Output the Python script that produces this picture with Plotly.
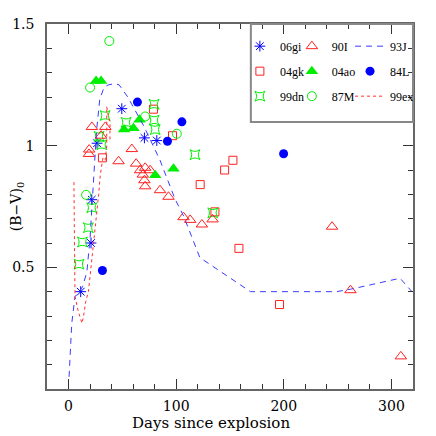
import plotly.graph_objects as go

# ---- data (days since explosion, (B-V)_0) ----
sn06gi_day = [11.3, 20.9, 21.6, 26.5, 49.5, 70.5, 82.0]
sn06gi_bv = [0.40, 0.60, 0.778, 1.01, 1.152, 1.032, 1.021]

sn90I_day = [19.0, 19.2, 21.7, 30.2, 34.2, 46.5, 58.8, 62.8, 66.5, 71.2, 75.8, 69.0,
             70.5, 71.2, 85.0, 92.9, 106.8, 113.0, 123.9, 133.8, 244.8, 261.9, 308.7]
sn90I_bv = [0.966, 0.984, 1.077, 1.041, 1.077, 0.936, 0.986, 0.926, 0.899, 0.909, 0.899, 0.881,
            0.858, 0.833, 0.817, 0.79, 0.706, 0.695, 0.676, 0.697, 0.667, 0.406, 0.134]

sn93J_day = [0.5, 3, 6, 10, 13, 17, 20, 23, 26, 29, 33, 37, 43, 47, 55, 70, 85, 99, 107,
             122, 169, 249, 262, 308, 325]
sn93J_bv = [0.05, 0.27, 0.38, 0.40, 0.42, 0.48, 0.62, 0.86, 1.06, 1.19, 1.24, 1.25, 1.255,
            1.25, 1.20, 1.08, 0.94, 0.78, 0.71, 0.54, 0.40, 0.40, 0.41, 0.455, 0.37]

sn04gk_day = [31.5, 78.9, 96.6, 122.3, 136.0, 145.0, 152.7, 158.3, 196.0]
sn04gk_bv = [0.95, 1.15, 1.041, 0.84, 0.728, 0.90, 0.94, 0.578, 0.347]

sn04ao_day = [25.6, 30.2, 51.6, 60.3, 65.9, 80.5, 97.5]
sn04ao_bv = [1.266, 1.266, 1.066, 1.072, 1.107, 0.878, 0.905]

sn84L_day = [31.5, 64.0, 91.9, 105.3, 199.8]
sn84L_bv = [0.487, 1.179, 1.018, 1.098, 0.967]

sn99dn_day = [9.8, 12.9, 18.4, 21.6, 28.4, 30.9, 34.0, 53.5, 79.5, 79.5, 80.5, 117.5, 134.0]
sn99dn_bv = [0.513, 0.604, 0.663, 0.745, 1.038, 1.004, 1.124, 1.096, 1.17, 1.105, 1.066, 0.963, 0.724]

sn87M_day = [16.3, 20.0, 37.9, 71.2, 100.6]
sn87M_bv = [0.798, 1.239, 1.43, 1.12, 1.049]

sn99ex_day = [5.0, 5.3, 6.0, 9.0, 12.5, 14.0, 16.0, 18.5, 21.0, 24.0, 26.5, 28.0, 29.5,
              32.0, 34.0, 35.5, 35.5, 37.0, 38.5, 38.5]
sn99ex_bv = [0.85, 0.60, 0.38, 0.32, 0.27, 0.30, 0.36, 0.40, 0.50, 0.64, 0.73, 0.80, 0.88,
             0.95, 0.94, 1.00, 1.16, 1.12, 1.10, 1.02]

x_ticks = [0, 100, 200, 300]
y_ticks = [0.5, 1, 1.5]
y_ticklabels = ["0.5", "1", "1.5"]
x_title = "Days since explosion"
y_title = "(B\u2212V)<sub>0</sub>"

FONT = "DejaVu Serif"
LFONT = "Liberation Serif"
BLUE = "#0000ff"
RED = "#ff2020"
GREEN = "#00ee00"

fig = go.Figure()

def mk(name, x, y, symbol, color, size, legend, fill=False):
    fig.add_trace(go.Scatter(
        x=x, y=y, mode="markers", name=name, legend=legend, legendgroup=name,
        marker=dict(symbol=symbol, size=size, color=color,
                    line=dict(color=color, width=1 if not fill else 0)),
    ))

# column 1
mk("06gi", sn06gi_day, sn06gi_bv, "asterisk-open", BLUE, 9, "legend")
mk("04gk", sn04gk_day, sn04gk_bv, "square-open", RED, 8, "legend")
mk("99dn", sn99dn_day, sn99dn_bv, "star-square-open", GREEN, 9, "legend")
# column 2
mk("90I", sn90I_day, sn90I_bv, "triangle-up-open", RED, 10, "legend2")
mk("04ao", sn04ao_day, sn04ao_bv, "triangle-up", GREEN, 11, "legend2", fill=True)
mk("87M", sn87M_day, sn87M_bv, "circle-open", GREEN, 9, "legend2")
# column 3
fig.add_trace(go.Scatter(x=sn93J_day, y=sn93J_bv, mode="lines", name="93J", legend="legend3",
                         legendgroup="93J",
                         line=dict(color="#3b3bff", width=1, dash="6px,5px")))
mk("84L", sn84L_day, sn84L_bv, "circle", BLUE, 9, "legend3", fill=True)
fig.add_trace(go.Scatter(x=sn99ex_day, y=sn99ex_bv, mode="lines", name="99ex", legend="legend3",
                         legendgroup="99ex",
                         line=dict(color="#ff3030", width=1, dash="dot")))

leg_common = dict(bgcolor="rgba(0,0,0,0)", borderwidth=0,
                  font=dict(family=LFONT, size=12, color="black"),
                  yanchor="top", xanchor="left", y=0.979, itemwidth=30, tracegroupgap=6,
                  orientation="v", traceorder="grouped")

# the page body has an 8px default margin, so margins are offset by 8px
fig.update_layout(
    width=436, height=436,
    margin=dict(l=39, r=31, t=16, b=55),
    paper_bgcolor="white", plot_bgcolor="white",
    font=dict(family=FONT, size=14, color="black"),
    showlegend=True,
    legend=dict(x=0.527, **leg_common),
    legend2=dict(x=0.669, **leg_common),
    legend3=dict(x=0.828, **leg_common),
    xaxis=dict(
        range=[-20, 320], tickvals=x_ticks, ticks="inside", ticklen=10, tickwidth=1,
        tickcolor="#333", showline=True, linecolor="#666", linewidth=1.5, mirror="ticks",
        showgrid=False, zeroline=False, automargin=False, ticklabelstandoff=3,
        minor=dict(dtick=20, tick0=0, ticks="inside", ticklen=5, tickcolor="#333", showgrid=False),
        tickfont=dict(family=FONT, size=14),
    ),
    yaxis=dict(
        range=[0, 1.5], tickvals=y_ticks, ticktext=y_ticklabels, ticks="inside", ticklen=10,
        tickwidth=1, tickcolor="#333", showline=True, linecolor="#666", linewidth=1.5,
        mirror="ticks", showgrid=False, zeroline=False, automargin=False, ticklabelstandoff=8,
        minor=dict(dtick=0.1, tick0=0, ticks="inside", ticklen=5, tickcolor="#333", showgrid=False),
        title=dict(text=y_title, font=dict(family=FONT, size=14), standoff=2),
        tickfont=dict(family=FONT, size=14),
    ),
    annotations=[dict(text=x_title, xref="paper", yref="paper", x=0.448, y=-0.094,
                      xanchor="center", yanchor="middle", showarrow=False,
                      font=dict(family=FONT, size=15, color="black"))],
    shapes=[dict(type="rect", xref="paper", yref="paper", x0=0.557, x1=1.0, y0=0.7315, y1=1.0,
                 line=dict(color="#888", width=2), fillcolor="rgba(0,0,0,0)", layer="above")],
)

fig.write_html("out.html")
